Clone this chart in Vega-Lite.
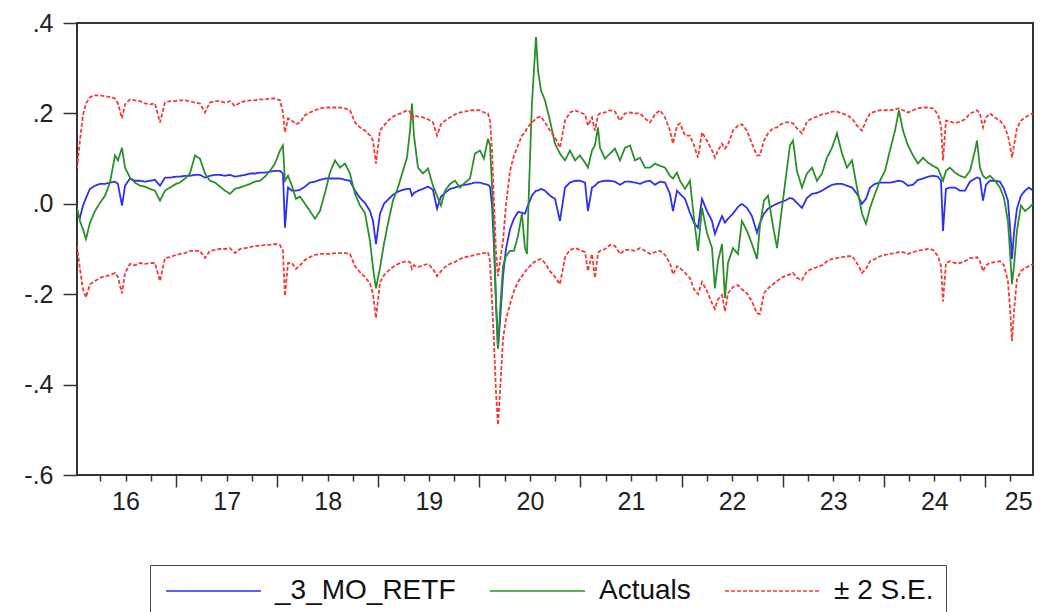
{
  "$schema": "https://vega.github.io/schema/vega-lite/v6.json",
  "width": 956,
  "height": 452,
  "autosize": {"type": "none"},
  "padding": {"left": 77, "top": 23, "right": 7, "bottom": 137},
  "background": "white",
  "config": {
    "view": {"stroke": "#333333", "strokeWidth": 2},
    "font": "Liberation Sans",
    "axis": {"domain": false, "grid": false, "labelFont": "Liberation Sans", "labelColor": "#222222", "tickColor": "#333333", "tickWidth": 1.5}
  },
  "data": {"values": [
{"t":2016.020,"f":-0.022,"a":-0.009,"u":0.078,"l":-0.093},
{"t":2016.049,"f":-0.031,"a":-0.038,"u":0.140,"l":-0.144},
{"t":2016.079,"f":-0.004,"a":-0.056,"u":0.196,"l":-0.189},
{"t":2016.109,"f":0.013,"a":-0.078,"u":0.222,"l":-0.207},
{"t":2016.148,"f":0.033,"a":-0.042,"u":0.236,"l":-0.178},
{"t":2016.198,"f":0.040,"a":-0.016,"u":0.240,"l":-0.171},
{"t":2016.247,"f":0.044,"a":0.002,"u":0.240,"l":-0.164},
{"t":2016.297,"f":0.044,"a":0.018,"u":0.238,"l":-0.160},
{"t":2016.346,"f":0.047,"a":0.047,"u":0.236,"l":-0.158},
{"t":2016.396,"f":0.049,"a":0.107,"u":0.233,"l":-0.153},
{"t":2016.425,"f":0.044,"a":0.096,"u":0.222,"l":-0.162},
{"t":2016.465,"f":-0.004,"a":0.124,"u":0.189,"l":-0.198},
{"t":2016.495,"f":0.040,"a":0.080,"u":0.220,"l":-0.153},
{"t":2016.544,"f":0.056,"a":0.058,"u":0.231,"l":-0.133},
{"t":2016.593,"f":0.051,"a":0.047,"u":0.229,"l":-0.136},
{"t":2016.643,"f":0.051,"a":0.040,"u":0.227,"l":-0.131},
{"t":2016.692,"f":0.049,"a":0.038,"u":0.222,"l":-0.133},
{"t":2016.742,"f":0.051,"a":0.033,"u":0.220,"l":-0.131},
{"t":2016.791,"f":0.053,"a":0.029,"u":0.222,"l":-0.131},
{"t":2016.841,"f":0.040,"a":0.007,"u":0.180,"l":-0.171},
{"t":2016.890,"f":0.058,"a":0.029,"u":0.224,"l":-0.120},
{"t":2016.940,"f":0.058,"a":0.036,"u":0.227,"l":-0.118},
{"t":2017.000,"f":0.060,"a":0.044,"u":0.227,"l":-0.113},
{"t":2017.039,"f":0.060,"a":0.047,"u":0.229,"l":-0.111},
{"t":2017.088,"f":0.062,"a":0.056,"u":0.229,"l":-0.109},
{"t":2017.137,"f":0.062,"a":0.067,"u":0.227,"l":-0.104},
{"t":2017.187,"f":0.064,"a":0.107,"u":0.224,"l":-0.104},
{"t":2017.236,"f":0.064,"a":0.100,"u":0.222,"l":-0.104},
{"t":2017.286,"f":0.058,"a":0.067,"u":0.202,"l":-0.120},
{"t":2017.335,"f":0.062,"a":0.051,"u":0.224,"l":-0.104},
{"t":2017.385,"f":0.064,"a":0.047,"u":0.227,"l":-0.102},
{"t":2017.434,"f":0.064,"a":0.038,"u":0.227,"l":-0.100},
{"t":2017.484,"f":0.062,"a":0.029,"u":0.224,"l":-0.100},
{"t":2017.533,"f":0.064,"a":0.022,"u":0.227,"l":-0.098},
{"t":2017.583,"f":0.060,"a":0.033,"u":0.216,"l":-0.109},
{"t":2017.632,"f":0.062,"a":0.036,"u":0.224,"l":-0.100},
{"t":2017.682,"f":0.064,"a":0.040,"u":0.227,"l":-0.098},
{"t":2017.731,"f":0.067,"a":0.044,"u":0.229,"l":-0.096},
{"t":2017.780,"f":0.067,"a":0.049,"u":0.229,"l":-0.093},
{"t":2017.830,"f":0.069,"a":0.051,"u":0.231,"l":-0.093},
{"t":2017.879,"f":0.069,"a":0.060,"u":0.231,"l":-0.091},
{"t":2017.929,"f":0.071,"a":0.073,"u":0.233,"l":-0.091},
{"t":2017.978,"f":0.073,"a":0.089,"u":0.233,"l":-0.089},
{"t":2018.028,"f":0.073,"a":0.118,"u":0.229,"l":-0.091},
{"t":2018.057,"f":0.067,"a":0.129,"u":0.202,"l":-0.104},
{"t":2018.077,"f":-0.053,"a":0.051,"u":0.158,"l":-0.204},
{"t":2018.107,"f":0.036,"a":0.062,"u":0.189,"l":-0.131},
{"t":2018.146,"f":0.029,"a":0.040,"u":0.184,"l":-0.131},
{"t":2018.186,"f":0.029,"a":0.011,"u":0.176,"l":-0.144},
{"t":2018.226,"f":0.031,"a":0.016,"u":0.180,"l":-0.136},
{"t":2018.275,"f":0.038,"a":0.000,"u":0.196,"l":-0.124},
{"t":2018.324,"f":0.047,"a":-0.016,"u":0.202,"l":-0.118},
{"t":2018.374,"f":0.049,"a":-0.033,"u":0.207,"l":-0.113},
{"t":2018.423,"f":0.053,"a":-0.016,"u":0.211,"l":-0.111},
{"t":2018.473,"f":0.056,"a":0.024,"u":0.213,"l":-0.111},
{"t":2018.522,"f":0.056,"a":0.069,"u":0.213,"l":-0.111},
{"t":2018.572,"f":0.056,"a":0.096,"u":0.213,"l":-0.109},
{"t":2018.621,"f":0.056,"a":0.080,"u":0.213,"l":-0.109},
{"t":2018.671,"f":0.053,"a":0.089,"u":0.211,"l":-0.109},
{"t":2018.720,"f":0.051,"a":0.067,"u":0.207,"l":-0.111},
{"t":2018.770,"f":0.029,"a":0.022,"u":0.180,"l":-0.138},
{"t":2018.819,"f":0.013,"a":-0.004,"u":0.169,"l":-0.151},
{"t":2018.868,"f":0.002,"a":-0.020,"u":0.162,"l":-0.162},
{"t":2018.918,"f":-0.016,"a":-0.082,"u":0.151,"l":-0.176},
{"t":2018.948,"f":-0.038,"a":-0.142,"u":0.140,"l":-0.200},
{"t":2018.977,"f":-0.089,"a":-0.187,"u":0.089,"l":-0.253},
{"t":2019.017,"f":-0.022,"a":-0.142,"u":0.162,"l":-0.173},
{"t":2019.056,"f":0.000,"a":-0.089,"u":0.173,"l":-0.158},
{"t":2019.096,"f":0.009,"a":-0.044,"u":0.184,"l":-0.149},
{"t":2019.145,"f":0.020,"a":0.007,"u":0.193,"l":-0.140},
{"t":2019.195,"f":0.027,"a":0.036,"u":0.198,"l":-0.133},
{"t":2019.244,"f":0.031,"a":0.073,"u":0.202,"l":-0.129},
{"t":2019.284,"f":0.033,"a":0.102,"u":0.207,"l":-0.127},
{"t":2019.314,"f":0.033,"a":0.162,"u":0.204,"l":-0.129},
{"t":2019.333,"f":0.018,"a":0.222,"u":0.184,"l":-0.144},
{"t":2019.353,"f":0.024,"a":0.151,"u":0.196,"l":-0.136},
{"t":2019.393,"f":0.029,"a":0.080,"u":0.193,"l":-0.140},
{"t":2019.442,"f":0.033,"a":0.067,"u":0.191,"l":-0.136},
{"t":2019.492,"f":0.038,"a":0.078,"u":0.187,"l":-0.133},
{"t":2019.541,"f":0.031,"a":0.040,"u":0.180,"l":-0.144},
{"t":2019.581,"f":-0.011,"a":0.018,"u":0.151,"l":-0.160},
{"t":2019.620,"f":0.016,"a":-0.004,"u":0.176,"l":-0.149},
{"t":2019.660,"f":0.024,"a":0.029,"u":0.184,"l":-0.140},
{"t":2019.709,"f":0.033,"a":0.044,"u":0.191,"l":-0.133},
{"t":2019.759,"f":0.036,"a":0.051,"u":0.198,"l":-0.129},
{"t":2019.808,"f":0.040,"a":0.036,"u":0.202,"l":-0.122},
{"t":2019.858,"f":0.042,"a":0.047,"u":0.204,"l":-0.118},
{"t":2019.907,"f":0.044,"a":0.056,"u":0.207,"l":-0.116},
{"t":2019.956,"f":0.047,"a":0.111,"u":0.207,"l":-0.113},
{"t":2020.006,"f":0.047,"a":0.118,"u":0.207,"l":-0.111},
{"t":2020.045,"f":0.044,"a":0.100,"u":0.202,"l":-0.109},
{"t":2020.085,"f":0.042,"a":0.144,"u":0.200,"l":-0.107},
{"t":2020.105,"f":0.038,"a":0.129,"u":0.184,"l":-0.127},
{"t":2020.125,"f":-0.004,"a":0.040,"u":0.118,"l":-0.216},
{"t":2020.144,"f":-0.093,"a":-0.060,"u":0.007,"l":-0.304},
{"t":2020.164,"f":-0.216,"a":-0.216,"u":-0.104,"l":-0.416},
{"t":2020.184,"f":-0.320,"a":-0.320,"u":-0.160,"l":-0.489},
{"t":2020.204,"f":-0.260,"a":-0.238,"u":-0.127,"l":-0.416},
{"t":2020.234,"f":-0.160,"a":-0.138,"u":-0.082,"l":-0.298},
{"t":2020.263,"f":-0.100,"a":-0.116,"u":-0.004,"l":-0.256},
{"t":2020.303,"f":-0.056,"a":-0.104,"u":0.073,"l":-0.222},
{"t":2020.342,"f":-0.033,"a":-0.104,"u":0.107,"l":-0.193},
{"t":2020.382,"f":-0.018,"a":-0.071,"u":0.129,"l":-0.173},
{"t":2020.421,"f":-0.020,"a":-0.022,"u":0.151,"l":-0.160},
{"t":2020.451,"f":-0.022,"a":-0.098,"u":0.158,"l":-0.151},
{"t":2020.471,"f":-0.009,"a":-0.111,"u":0.167,"l":-0.144},
{"t":2020.491,"f":0.002,"a":0.036,"u":0.173,"l":-0.140},
{"t":2020.520,"f":0.018,"a":0.222,"u":0.180,"l":-0.133},
{"t":2020.540,"f":0.024,"a":0.296,"u":0.184,"l":-0.129},
{"t":2020.560,"f":0.029,"a":0.369,"u":0.189,"l":-0.127},
{"t":2020.580,"f":0.029,"a":0.296,"u":0.191,"l":-0.124},
{"t":2020.609,"f":0.033,"a":0.251,"u":0.193,"l":-0.122},
{"t":2020.649,"f":0.029,"a":0.229,"u":0.180,"l":-0.131},
{"t":2020.698,"f":0.018,"a":0.184,"u":0.162,"l":-0.149},
{"t":2020.748,"f":0.011,"a":0.133,"u":0.147,"l":-0.162},
{"t":2020.797,"f":-0.038,"a":0.111,"u":0.124,"l":-0.178},
{"t":2020.847,"f":0.036,"a":0.096,"u":0.184,"l":-0.118},
{"t":2020.896,"f":0.047,"a":0.118,"u":0.202,"l":-0.102},
{"t":2020.946,"f":0.051,"a":0.096,"u":0.207,"l":-0.098},
{"t":2020.995,"f":0.051,"a":0.107,"u":0.202,"l":-0.102},
{"t":2021.045,"f":0.047,"a":0.091,"u":0.198,"l":-0.107},
{"t":2021.074,"f":-0.016,"a":0.080,"u":0.173,"l":-0.149},
{"t":2021.114,"f":0.036,"a":0.118,"u":0.191,"l":-0.111},
{"t":2021.143,"f":0.040,"a":0.129,"u":0.162,"l":-0.164},
{"t":2021.173,"f":0.047,"a":0.169,"u":0.196,"l":-0.109},
{"t":2021.193,"f":0.049,"a":0.124,"u":0.200,"l":-0.104},
{"t":2021.242,"f":0.051,"a":0.100,"u":0.202,"l":-0.100},
{"t":2021.292,"f":0.051,"a":0.111,"u":0.207,"l":-0.091},
{"t":2021.341,"f":0.049,"a":0.122,"u":0.204,"l":-0.093},
{"t":2021.391,"f":0.042,"a":0.096,"u":0.184,"l":-0.111},
{"t":2021.440,"f":0.049,"a":0.124,"u":0.200,"l":-0.102},
{"t":2021.490,"f":0.049,"a":0.129,"u":0.202,"l":-0.102},
{"t":2021.539,"f":0.047,"a":0.096,"u":0.200,"l":-0.104},
{"t":2021.589,"f":0.044,"a":0.102,"u":0.200,"l":-0.098},
{"t":2021.638,"f":0.049,"a":0.080,"u":0.189,"l":-0.104},
{"t":2021.688,"f":0.051,"a":0.080,"u":0.180,"l":-0.111},
{"t":2021.737,"f":0.042,"a":0.089,"u":0.198,"l":-0.107},
{"t":2021.786,"f":0.049,"a":0.084,"u":0.207,"l":-0.104},
{"t":2021.836,"f":0.047,"a":0.080,"u":0.191,"l":-0.113},
{"t":2021.885,"f":0.022,"a":0.062,"u":0.162,"l":-0.131},
{"t":2021.915,"f":-0.016,"a":0.056,"u":0.133,"l":-0.156},
{"t":2021.955,"f":0.029,"a":0.069,"u":0.173,"l":-0.138},
{"t":2021.984,"f":0.022,"a":0.051,"u":0.178,"l":-0.142},
{"t":2022.034,"f":0.011,"a":0.033,"u":0.151,"l":-0.153},
{"t":2022.083,"f":-0.020,"a":0.051,"u":0.151,"l":-0.164},
{"t":2022.123,"f":-0.042,"a":-0.033,"u":0.129,"l":-0.189},
{"t":2022.162,"f":-0.053,"a":-0.104,"u":0.102,"l":-0.200},
{"t":2022.202,"f":0.011,"a":-0.009,"u":0.158,"l":-0.173},
{"t":2022.251,"f":-0.016,"a":-0.064,"u":0.140,"l":-0.193},
{"t":2022.301,"f":-0.038,"a":-0.098,"u":0.118,"l":-0.220},
{"t":2022.330,"f":-0.067,"a":-0.187,"u":0.102,"l":-0.233},
{"t":2022.360,"f":-0.049,"a":-0.127,"u":0.118,"l":-0.211},
{"t":2022.400,"f":-0.027,"a":-0.089,"u":0.133,"l":-0.202},
{"t":2022.429,"f":-0.042,"a":-0.209,"u":0.122,"l":-0.238},
{"t":2022.459,"f":-0.033,"a":-0.131,"u":0.131,"l":-0.198},
{"t":2022.508,"f":-0.022,"a":-0.098,"u":0.162,"l":-0.184},
{"t":2022.558,"f":-0.007,"a":-0.111,"u":0.173,"l":-0.180},
{"t":2022.597,"f":0.000,"a":-0.038,"u":0.176,"l":-0.189},
{"t":2022.647,"f":-0.009,"a":-0.060,"u":0.162,"l":-0.198},
{"t":2022.696,"f":-0.027,"a":-0.089,"u":0.133,"l":-0.216},
{"t":2022.746,"f":-0.064,"a":-0.122,"u":0.107,"l":-0.242},
{"t":2022.775,"f":-0.042,"a":-0.049,"u":0.107,"l":-0.244},
{"t":2022.815,"f":-0.022,"a":0.007,"u":0.140,"l":-0.198},
{"t":2022.855,"f":-0.011,"a":0.018,"u":0.156,"l":-0.187},
{"t":2022.904,"f":-0.004,"a":-0.049,"u":0.167,"l":-0.178},
{"t":2022.944,"f":0.000,"a":-0.098,"u":0.169,"l":-0.171},
{"t":2022.983,"f":0.004,"a":-0.027,"u":0.176,"l":-0.164},
{"t":2023.023,"f":0.007,"a":0.044,"u":0.180,"l":-0.160},
{"t":2023.072,"f":0.013,"a":0.129,"u":0.180,"l":-0.156},
{"t":2023.102,"f":0.011,"a":0.140,"u":0.178,"l":-0.153},
{"t":2023.141,"f":0.002,"a":0.073,"u":0.167,"l":-0.164},
{"t":2023.191,"f":-0.009,"a":0.036,"u":0.156,"l":-0.169},
{"t":2023.240,"f":0.013,"a":0.067,"u":0.182,"l":-0.149},
{"t":2023.290,"f":0.022,"a":0.080,"u":0.189,"l":-0.144},
{"t":2023.339,"f":0.024,"a":0.051,"u":0.193,"l":-0.140},
{"t":2023.389,"f":0.029,"a":0.067,"u":0.198,"l":-0.136},
{"t":2023.438,"f":0.036,"a":0.102,"u":0.200,"l":-0.127},
{"t":2023.488,"f":0.042,"a":0.124,"u":0.204,"l":-0.122},
{"t":2023.537,"f":0.044,"a":0.156,"u":0.204,"l":-0.120},
{"t":2023.587,"f":0.044,"a":0.111,"u":0.200,"l":-0.118},
{"t":2023.636,"f":0.040,"a":0.080,"u":0.196,"l":-0.116},
{"t":2023.686,"f":0.036,"a":0.096,"u":0.189,"l":-0.116},
{"t":2023.735,"f":0.022,"a":0.036,"u":0.173,"l":-0.131},
{"t":2023.785,"f":0.000,"a":-0.022,"u":0.162,"l":-0.153},
{"t":2023.824,"f":0.011,"a":-0.044,"u":0.184,"l":-0.144},
{"t":2023.864,"f":0.036,"a":-0.009,"u":0.200,"l":-0.127},
{"t":2023.913,"f":0.044,"a":0.022,"u":0.204,"l":-0.122},
{"t":2023.962,"f":0.047,"a":0.051,"u":0.207,"l":-0.116},
{"t":2024.012,"f":0.047,"a":0.073,"u":0.207,"l":-0.113},
{"t":2024.061,"f":0.047,"a":0.118,"u":0.207,"l":-0.111},
{"t":2024.111,"f":0.049,"a":0.162,"u":0.209,"l":-0.109},
{"t":2024.150,"f":0.051,"a":0.207,"u":0.211,"l":-0.107},
{"t":2024.190,"f":0.049,"a":0.162,"u":0.207,"l":-0.107},
{"t":2024.239,"f":0.040,"a":0.129,"u":0.202,"l":-0.111},
{"t":2024.289,"f":0.042,"a":0.107,"u":0.207,"l":-0.107},
{"t":2024.338,"f":0.053,"a":0.089,"u":0.211,"l":-0.104},
{"t":2024.388,"f":0.056,"a":0.102,"u":0.213,"l":-0.102},
{"t":2024.437,"f":0.060,"a":0.091,"u":0.213,"l":-0.100},
{"t":2024.487,"f":0.062,"a":0.084,"u":0.211,"l":-0.102},
{"t":2024.536,"f":0.060,"a":0.078,"u":0.198,"l":-0.116},
{"t":2024.566,"f":0.051,"a":0.062,"u":0.173,"l":-0.138},
{"t":2024.586,"f":-0.060,"a":0.051,"u":0.096,"l":-0.216},
{"t":2024.615,"f":0.033,"a":0.073,"u":0.184,"l":-0.131},
{"t":2024.655,"f":0.036,"a":0.080,"u":0.182,"l":-0.127},
{"t":2024.704,"f":0.036,"a":0.069,"u":0.178,"l":-0.131},
{"t":2024.754,"f":0.029,"a":0.062,"u":0.182,"l":-0.131},
{"t":2024.803,"f":0.029,"a":0.058,"u":0.187,"l":-0.127},
{"t":2024.853,"f":0.049,"a":0.073,"u":0.200,"l":-0.120},
{"t":2024.902,"f":0.056,"a":0.118,"u":0.204,"l":-0.120},
{"t":2024.922,"f":0.058,"a":0.140,"u":0.207,"l":-0.118},
{"t":2024.951,"f":0.056,"a":0.080,"u":0.200,"l":-0.127},
{"t":2024.981,"f":0.007,"a":0.062,"u":0.169,"l":-0.149},
{"t":2025.011,"f":0.042,"a":0.056,"u":0.191,"l":-0.136},
{"t":2025.050,"f":0.051,"a":0.062,"u":0.200,"l":-0.131},
{"t":2025.100,"f":0.051,"a":0.051,"u":0.191,"l":-0.129},
{"t":2025.149,"f":0.049,"a":0.036,"u":0.184,"l":-0.127},
{"t":2025.189,"f":0.033,"a":0.013,"u":0.173,"l":-0.136},
{"t":2025.228,"f":0.007,"a":-0.038,"u":0.151,"l":-0.171},
{"t":2025.248,"f":-0.049,"a":-0.104,"u":0.129,"l":-0.227},
{"t":2025.268,"f":-0.122,"a":-0.178,"u":0.102,"l":-0.304},
{"t":2025.288,"f":-0.064,"a":-0.138,"u":0.129,"l":-0.238},
{"t":2025.317,"f":-0.011,"a":-0.060,"u":0.167,"l":-0.167},
{"t":2025.357,"f":0.018,"a":-0.004,"u":0.184,"l":-0.149},
{"t":2025.397,"f":0.029,"a":-0.016,"u":0.191,"l":-0.142},
{"t":2025.436,"f":0.036,"a":-0.009,"u":0.196,"l":-0.138},
{"t":2025.476,"f":0.029,"a":0.000,"u":0.200,"l":-0.133}
  ]},
  "transform": [{"fold": ["f", "a", "u", "l"], "as": ["s", "v"]}],
  "mark": {"type": "line", "strokeWidth": 1.8, "clip": true, "interpolate": "linear"},
  "encoding": {
    "x": {
      "field": "t", "type": "quantitative",
      "scale": {"domain": [2016.02, 2025.476], "nice": false, "zero": false},
      "axis": {
        "title": null,
        "values": [2016.25,2016.5,2016.75,2017,2017.25,2017.5,2017.75,2018,2018.25,2018.5,2018.75,2019,2019.25,2019.5,2019.75,2020,2020.25,2020.5,2020.75,2021,2021.25,2021.5,2021.75,2022,2022.25,2022.5,2022.75,2023,2023.25,2023.5,2023.75,2024,2024.25,2024.5,2024.75,2025,2025.25],
        "tickSize": {"condition": {"test": "datum.value % 1 === 0", "value": 12}, "value": 6},
        "labelExpr": "(datum.value % 1 === 0.5 || datum.value === 2025.25) ? toString(floor(datum.value) - 2000) : ''",
        "labelOffset": {"condition": {"test": "datum.value === 2025.25", "value": 8}, "value": 0},
        "labelOverlap": false,
        "labelFontSize": 25,
        "labelPadding": 8,
        "labelFlush": false
      }
    },
    "y": {
      "field": "v", "type": "quantitative",
      "scale": {"domain": [-0.6, 0.4], "nice": false, "zero": false},
      "axis": {
        "title": null,
        "values": [-0.6, -0.4, -0.2, 0, 0.2, 0.4],
        "tickSize": 14,
        "labelPadding": 10,
        "labelFontSize": 25,
        "labelExpr": "(datum.value < 0 ? '-' : '') + '.' + toString(round(abs(datum.value) * 10))",
        "labelFlush": false
      }
    },
    "color": {
      "field": "s", "type": "nominal",
      "scale": {"domain": ["f", "a", "u", "l"], "range": ["#2f2ff0", "#2b902b", "#f23a3a", "#f23a3a"]},
      "legend": {
        "title": null, "orient": "none", "legendX": 73, "legendY": 542, "direction": "horizontal",
        "values": ["f", "a", "u"],
        "labelExpr": "datum.value === 'f' ? '_3_MO_RETF ' : datum.value === 'a' ? 'Actuals' : '± 2 S.E.'",
        "symbolType": "M-1,0H8.5", "symbolSize": 400, "symbolStrokeWidth": 1.6,
        "labelFontSize": 28, "labelFont": "Liberation Sans", "labelColor": "#111111", "labelOffset": 85,
        "columnPadding": 30, "padding": 12, "strokeColor": "#444444", "labelLimit": 400
      }
    },
    "strokeDash": {
      "field": "s", "type": "nominal",
      "scale": {"domain": ["f", "a", "u", "l"], "range": [[1, 0], [1, 0], [4, 2], [4, 2]]},
      "legend": {
        "title": null, "orient": "none", "legendX": 73, "legendY": 542, "direction": "horizontal",
        "values": ["f", "a", "u"],
        "labelExpr": "datum.value === 'f' ? '_3_MO_RETF ' : datum.value === 'a' ? 'Actuals' : '± 2 S.E.'",
        "symbolType": "M-1,0H8.5", "symbolSize": 400, "symbolStrokeWidth": 1.6,
        "labelFontSize": 28, "labelFont": "Liberation Sans", "labelColor": "#111111", "labelOffset": 85,
        "columnPadding": 30, "padding": 12, "strokeColor": "#444444", "labelLimit": 400
      }
    }
  }
}
